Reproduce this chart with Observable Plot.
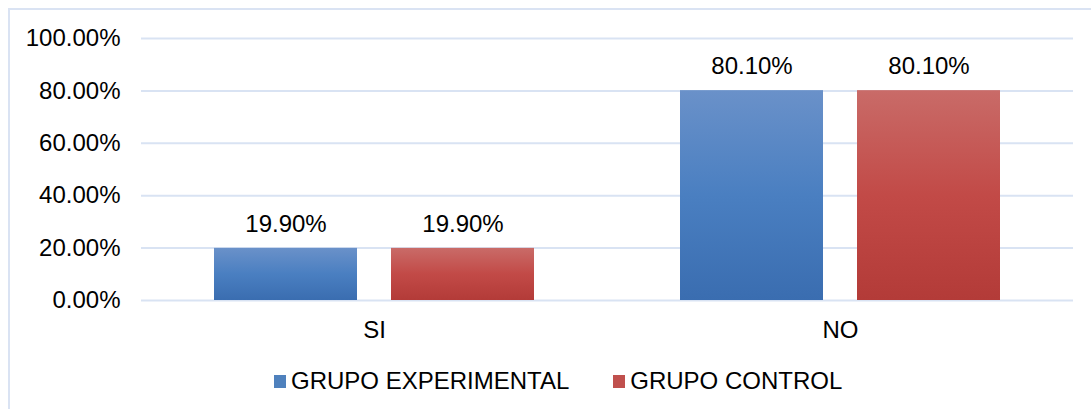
<!DOCTYPE html>
<html><head><meta charset="utf-8">
<script src="https://cdn.jsdelivr.net/npm/d3@7"></script>
<script src="https://cdn.jsdelivr.net/npm/@observablehq/plot@0.6"></script>
<style>
body{margin:0;background:#fff;font-family:"Liberation Sans",Arial,sans-serif;}
#wrap{position:relative;width:1091px;height:409px;overflow:hidden;background:#fff;}
#frame{position:absolute;left:8px;top:8px;width:1200px;height:500px;border-left:2px solid #dae3f3;border-top:2px solid #dae3f3;box-sizing:border-box;}
#chart{position:absolute;left:0;top:0;}
#legend{position:absolute;left:274px;top:368px;height:26px;display:flex;align-items:center;font-size:24px;color:#000;white-space:nowrap;}
.item{display:flex;align-items:center;margin-right:44px;}
.sw{width:12px;height:13px;margin-right:5px;}
</style></head>
<body>
<div id="wrap"><div id="frame"></div><div id="chart"></div><div id="legend"></div></div>
<script>
const categories = ["SI", "NO"];
const series = ["GRUPO EXPERIMENTAL", "GRUPO CONTROL"];
const experimental = [0.199, 0.801];
const control = [0.199, 0.801];
const yTicks = [0, 0.2, 0.4, 0.6, 0.8, 1.0];
const seriesColors = ["#4f81bd", "#c0504d"];

const data = categories.flatMap((c, i) => [
  {cat: c, series: series[0], value: experimental[i]},
  {cat: c, series: series[1], value: control[i]}
]);

const fmt = d3.format(".2%");

function defs() {
  const ns = "http://www.w3.org/2000/svg";
  const d = document.createElementNS(ns, "defs");
  const grads = [["gB", ["#6a91c9", "#4a7fc1", "#3a6db0"]], ["gR", ["#c96b68", "#c24a47", "#b33b38"]]];
  for (const [id, stops] of grads) {
    const g = document.createElementNS(ns, "linearGradient");
    g.setAttribute("id", id);
    g.setAttribute("x1", "0"); g.setAttribute("y1", "0");
    g.setAttribute("x2", "0"); g.setAttribute("y2", "1");
    stops.forEach((c, k) => {
      const s = document.createElementNS(ns, "stop");
      s.setAttribute("offset", (k / (stops.length - 1)) * 100 + "%");
      s.setAttribute("stop-color", c);
      g.appendChild(s);
    });
    d.appendChild(g);
  }
  return d;
}

const chart = Plot.plot({
  width: 1091,
  height: 350,
  marginLeft: 141,
  marginRight: 18,
  marginTop: 38,
  marginBottom: 50,
  style: {fontFamily: "'Liberation Sans', Arial, sans-serif", fontSize: "24px", color: "#000", background: "transparent", overflow: "visible"},
  fx: {domain: categories, padding: 0, label: null, axis: null},
  x: {domain: series, paddingInner: 0.191, paddingOuter: 0.4045, axis: null},
  y: {domain: [0, 1], axis: null},
  marks: [
    defs,
    Plot.ruleY(yTicks, {stroke: "#d9e3f3", strokeWidth: 2}),
    Plot.barY(data.filter(d => d.series === series[0]), {fx: "cat", x: "series", y: "value", fill: "url(#gB)"}),
    Plot.barY(data.filter(d => d.series === series[1]), {fx: "cat", x: "series", y: "value", fill: "url(#gR)"}),
    Plot.text(data, {fx: "cat", x: "series", y: "value", text: d => fmt(d.value), dy: -24, lineAnchor: "middle", fill: "#000", fontSize: 24}),
    Plot.axisY(yTicks, {tickFormat: fmt, tickSize: 0, tickPadding: 21, label: null, fontSize: 24}),
    Plot.axisFx({anchor: "bottom", tickSize: 0, tickPadding: 20, label: null, fontSize: 24})
  ]
});
document.getElementById("chart").appendChild(chart);

const legend = document.getElementById("legend");
series.forEach((s, i) => {
  const it = document.createElement("div");
  it.className = "item";
  const sw = document.createElement("div");
  sw.className = "sw";
  sw.style.background = seriesColors[i];
  const t = document.createElement("span");
  t.textContent = s;
  it.appendChild(sw); it.appendChild(t);
  legend.appendChild(it);
});
</script>
</body></html>
